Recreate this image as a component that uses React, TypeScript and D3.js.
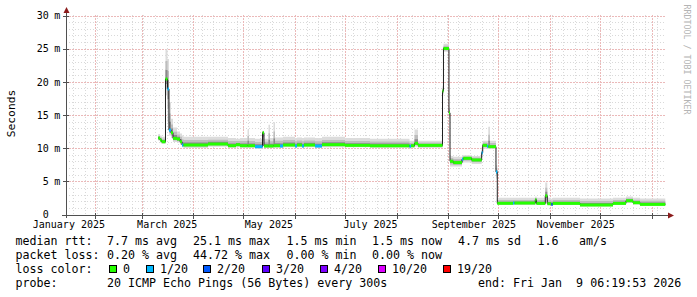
import React from 'react';
import * as d3 from 'd3';

const W = 697;
const H = 297;
const START = new Date(Date.UTC(2025, 0, 14, 6, 19, 53));
const END = new Date(Date.UTC(2026, 0, 9, 6, 19, 53));

// step segments: start time, median rtt (ms), loss bucket, smoke low/high (ms)
const segStart = [
  '2025-03-10T15', '2025-03-11T16', '2025-03-12T16', '2025-03-14T23', '2025-03-16T04',
  '2025-03-17T01', '2025-03-18T06', '2025-03-19T11', '2025-03-21T21', '2025-03-23T16',
  '2025-03-24T21', '2025-03-25T18', '2025-04-09T11', '2025-04-21T11', '2025-04-26T06',
  '2025-04-28T16', '2025-05-03T04', '2025-05-04T01', '2025-05-07T16', '2025-05-12T04',
  '2025-05-13T01', '2025-05-15T18', '2025-05-16T16', '2025-05-18T18', '2025-05-19T16',
  '2025-05-22T16', '2025-05-24T11', '2025-05-31T16', '2025-06-01T21', '2025-06-04T21',
  '2025-06-06T01', '2025-06-12T16', '2025-06-16T21', '2025-06-30T16', '2025-07-15T16',
  '2025-08-08T09', '2025-08-09T06', '2025-08-11T09', '2025-08-13T11', '2025-08-28T04',
  '2025-08-28T18', '2025-09-01T01', '2025-09-01T16', '2025-09-03T15', '2025-09-08T21',
  '2025-09-09T15', '2025-09-14T16', '2025-09-20T16', '2025-09-21T07', '2025-09-23T21',
  '2025-09-24T15', '2025-09-25T16', '2025-09-29T06', '2025-09-30T01', '2025-10-09T11',
  '2025-10-10T09', '2025-10-22T20', '2025-10-23T13', '2025-10-28T20', '2025-10-30T01',
  '2025-11-01T11', '2025-11-02T07', '2025-11-18T16', '2025-12-08T11', '2025-12-16T06',
  '2025-12-20T11', '2025-12-24T16',
];
const seriesEnd = '2026-01-08T20';
const segMedian = [
  11.6, 11.3, 11.05, 20.5, 19.0,
  12.8, 12.4, 11.55, 11.45, 11.05,
  10.55, 10.55, 10.7, 10.45, 10.6,
  10.45, 10.45, 10.45, 10.3, 12.4,
  10.4, 10.4, 10.4, 10.45, 10.45,
  10.4, 10.55, 10.4, 10.55, 10.4,
  10.55, 10.4, 10.6, 10.5, 10.45,
  10.35, 10.45, 10.8, 10.5, 18.7,
  25.1, 15.4, 8.1, 7.9, 8.4,
  8.55, 8.3, 9.4, 10.5, 10.35,
  10.3, 10.3, 6.5, 1.76, 1.8,
  1.8, 2.3, 1.75, 2.9, 1.7,
  1.6, 1.75, 1.5, 1.75, 2.15,
  1.85, 1.6,
];
const segLoss = [
  0, 0, 0, 0, 1,
  1, 0, 0, 0, 0,
  1, 0, 0, 0, 0,
  0, 0, 0, 1, 0,
  0, 0, 0, 0, 0,
  1, 0, 1, 0, 1,
  0, 1, 0, 0, 0,
  1, 0, 0, 0, 0,
  0, 0, 0, 0, 1,
  0, 0, 1, 0, 1,
  0, 0, 1, 0, 1,
  0, 0, 0, 0, 0,
  2, 0, 0, 0, 0,
  0, 0,
];
const segLow = [
  11.2, 10.9, 10.7, 18.0, 14.0,
  12.0, 11.6, 11.0, 10.9, 10.6,
  10.2, 10.1, 10.3, 10.1, 10.2,
  10.1, 10.1, 10.1, 10.0, 10.4,
  10.1, 10.1, 10.1, 10.1, 10.1,
  10.1, 10.2, 10.1, 10.2, 10.1,
  10.2, 10.1, 10.2, 10.2, 10.1,
  10.0, 10.1, 10.3, 10.1, 18.0,
  24.6, 14.5, 7.3, 7.3, 7.8,
  7.9, 7.7, 8.8, 10.0, 10.0,
  10.0, 10.0, 5.5, 1.5, 1.5,
  1.5, 1.6, 1.5, 1.8, 1.5,
  1.4, 1.5, 1.3, 1.5, 1.8,
  1.6, 1.4,
];
const segHigh = [
  12.2, 12.0, 11.8, 25.0, 23.5,
  17.0, 14.5, 13.2, 12.6, 12.3,
  12.0, 11.8, 11.8, 11.6, 11.5,
  11.6, 12.9, 11.6, 11.5, 12.7,
  11.5, 13.6, 11.6, 14.0, 11.7,
  11.7, 11.8, 11.6, 11.7, 11.6,
  11.7, 11.6, 11.8, 11.6, 11.5,
  11.2, 11.2, 12.9, 11.2, 19.5,
  25.8, 16.2, 8.9, 8.8, 9.0,
  9.0, 8.9, 10.2, 11.2, 11.2,
  13.3, 11.2, 7.5, 2.6, 2.6,
  2.6, 2.8, 2.6, 4.9, 2.6,
  2.4, 2.6, 2.5, 2.6, 2.8,
  2.6, 2.5,
];

const yTicks = [0, 5, 10, 15, 20, 25, 30];
const lossColors = ['#26ff00', '#00b8ff', '#0059ff', '#5e00ff', '#7e00ff', '#dd00ff', '#ff0000'];
const lossLabels = ['0', '1/20', '2/20', '3/20', '4/20', '10/20', '19/20'];
const rttStats = ['7.7 ms avg', '25.1 ms max', '1.5 ms min', '1.5 ms now', '4.7 ms sd', '1.6', 'am/s'];
const lossStats = ['0.20 % avg', '44.72 % max', '0.00 % min', '0.00 % now'];
const probeText = '20 ICMP Echo Pings (56 Bytes) every 300s';
const endText = 'end: Fri Jan  9 06:19:53 2026';

const MONO = '"DejaVu Sans Mono", monospace';

const parse = (s: string) => new Date(s + ':00:00Z');

export default function App() {
  const x = d3.scaleUtc().domain([START, END]).range([66, 666]);
  const y = d3.scaleLinear().domain([0, 30]).range([215, 16]);
  const px = (v: number) => Math.floor(v) + 0.5;

  const pts = segStart.map((s, i) => ({
    t: parse(s), m: segMedian[i], lo: segLow[i], hi: segHigh[i], l: segLoss[i],
  }));
  const last = pts[pts.length - 1];
  const ptsEnd = [...pts, { ...last, t: parse(seriesEnd) }];

  const smokeLayers = [
    { f: 1, c: '#dcdcdc' },
    { f: 0.6, c: '#bdbdbd' },
    { f: 0.3, c: '#8a8a8a' },
  ];
  const areaFor = (f: number) =>
    d3.area<any>()
      .x((d) => x(d.t))
      .y0((d) => y(d.m - (d.m - d.lo) * f))
      .y1((d) => y(d.m + (d.hi - d.m) * f))
      .curve(d3.curveStepAfter)(ptsEnd) || '';
  const medLine = d3.line<any>().x((d) => x(d.t)).y((d) => y(d.m)).curve(d3.curveStepAfter)(ptsEnd) || '';

  const minorY = d3.range(1, 31).filter((v) => v % 5 !== 0);
  const majorY = yTicks.filter((v) => v > 0);
  const weeks = d3.utcSunday.range(START, END);
  const months = d3.utcMonth.range(START, END);
  const labelMonths = d3.utcMonth.every(2)!.range(new Date(Date.UTC(2024, 11, 1)), END)
    .map((m) => d3.utcDay.offset(m, 15))
    .filter((c) => c >= START && c <= END);
  const fmt = d3.utcFormat('%B %Y');

  const rttX = [107, 193, 286.5, 372, 458, 537.5, 579];
  const lossX = [107, 193, 286.5, 372];
  const boxX = [109, 146, 203, 262, 320, 378, 443];

  return (
    <svg width={W} height={H} style={{ position: 'absolute', left: 0, top: 0, display: 'block', background: '#fff' }}>
      <rect x={0} y={0} width={W} height={H} fill="#fff" />
      {/* grid */}
      <g shapeRendering="crispEdges" strokeWidth={1}>
        {minorY.map((v) => (
          <line key={'hy' + v} x1={66} x2={666} y1={px(y(v))} y2={px(y(v))} stroke="#d9d9d9" strokeDasharray="1,2" />
        ))}
        {weeks.map((d, i) => (
          <line key={'wk' + i} x1={px(x(d))} x2={px(x(d))} y1={15} y2={215} stroke="#d9d9d9" strokeDasharray="1,2" />
        ))}
        {majorY.map((v) => (
          <line key={'My' + v} x1={66} x2={666} y1={px(y(v))} y2={px(y(v))} stroke="#ebb9b9" strokeDasharray="2,1" />
        ))}
        {months.map((d, i) => (
          <line key={'mo' + i} x1={px(x(d))} x2={px(x(d))} y1={15} y2={215} stroke="#ebb9b9" strokeDasharray="2,1" />
        ))}
      </g>
      {/* smoke */}
      {smokeLayers.map((s) => (
        <path key={s.f} d={areaFor(s.f)} fill={s.c} stroke="none" />
      ))}
      {/* median */}
      <path d={medLine} fill="none" stroke="#202020" strokeWidth={1} />
      {pts.map((p, i) => (
        <line
          key={'seg' + i}
          x1={x(p.t)}
          x2={x(ptsEnd[i + 1].t)}
          y1={y(p.m)}
          y2={y(p.m)}
          stroke={lossColors[p.l]}
          strokeWidth={3}
        />
      ))}
      {/* axes */}
      <g shapeRendering="crispEdges">
        <line x1={66.5} x2={66.5} y1={10} y2={218} stroke="#505050" />
        <line x1={62} x2={670} y1={215.5} y2={215.5} stroke="#505050" />
        {months.map((d, i) => (
          <line key={'mt' + i} x1={px(x(d))} x2={px(x(d))} y1={213} y2={219} stroke="#505050" />
        ))}
        {majorY.map((v) => (
          <line key={'yt' + v} x1={63} x2={69} y1={px(y(v))} y2={px(y(v))} stroke="#505050" />
        ))}
      </g>
      <polygon points="63.5,13 69.5,13 66.5,7" fill="#8b1c1c" />
      <polygon points="668,212.5 668,218.5 674,215.5" fill="#8b1c1c" />
      {/* y labels */}
      <g fontFamily={MONO} fontSize={10} fill="#000">
        {yTicks.map((v) => (
          <g key={'yl' + v}>
            <text x={48.7} y={y(v) + 3.3} textAnchor="end">{v === 0 ? '0' : String(v)}</text>
            {v !== 0 && <text x={54.3} y={y(v) + 3.3}>m</text>}
          </g>
        ))}
        {labelMonths.map((d, i) => (
          <text key={'xl' + i} x={x(d)} y={228} textAnchor="middle">{fmt(d)}</text>
        ))}
      </g>
      <text transform="translate(14.5,113.5) rotate(-90)" fontFamily={MONO} fontSize={11.3} textAnchor="middle" fill="#000">Seconds</text>
      <text transform="translate(684,4.5) rotate(90)" fontFamily={MONO} fontSize={8.3} fill="#b4b4b4">RRDTOOL / TOBI OETIKER</text>
      {/* legend */}
      <g fontFamily={MONO} fontSize={11.65} fill="#000" style={{ whiteSpace: 'pre' }}>
        <text x={15.5} y={245}>median rtt:</text>
        {rttStats.map((s, i) => (
          <text key={'r' + i} x={rttX[i]} y={245}>{s}</text>
        ))}
        <text x={15.5} y={259}>packet loss:</text>
        {lossStats.map((s, i) => (
          <text key={'l' + i} x={lossX[i]} y={259}>{s}</text>
        ))}
        <text x={15.5} y={273}>loss color:</text>
        {lossLabels.map((s, i) => (
          <g key={'lc' + i}>
            <rect x={boxX[i] + 0.5} y={265.5} width={7} height={7} fill={lossColors[i]} stroke="#000" strokeWidth={1} shapeRendering="crispEdges" />
            <text x={boxX[i] + 14} y={273}>{s}</text>
          </g>
        ))}
        <text x={15.5} y={287}>probe:</text>
        <text x={107} y={287}>{probeText}</text>
        <text x={478} y={287} xmlSpace="preserve">{endText}</text>
      </g>
    </svg>
  );
}
